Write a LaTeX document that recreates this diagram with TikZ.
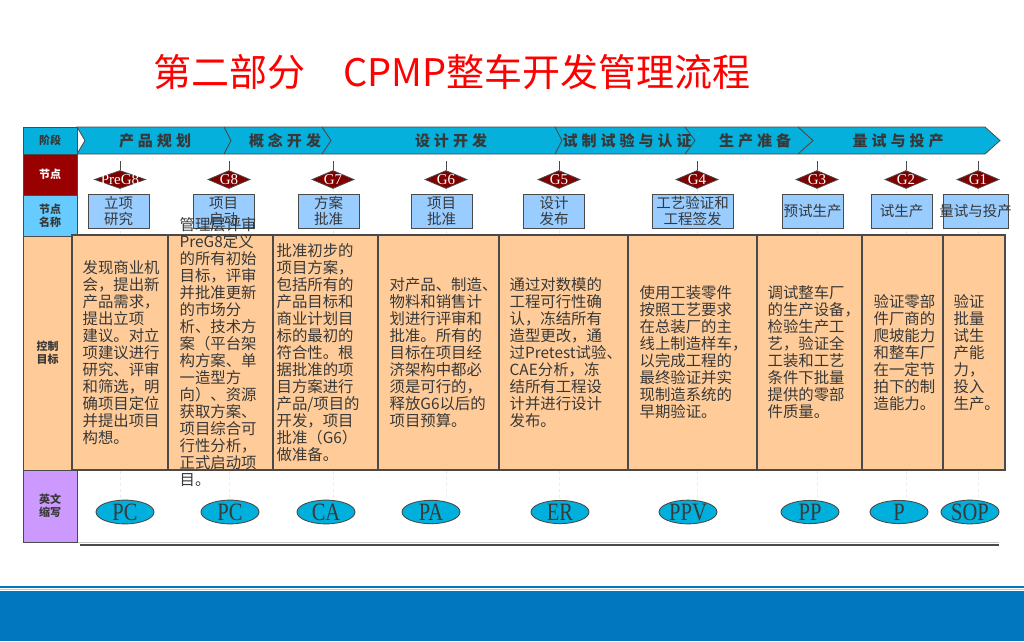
\documentclass[tikz,border=0pt]{standalone}
\usepackage{fontspec}
\setmainfont{Noto Sans CJK SC}
\newfontfamily\gatefont{Liberation Serif}
\newfontfamily\abbrfont[FakeStretch=0.82]{Liberation Serif}
\usepackage{tikz}
\usetikzlibrary{shapes.geometric, backgrounds}
\usepackage{xcolor}
\definecolor{stageCyan}{HTML}{06B0DC}
\definecolor{labelRed}{HTML}{990000}
\definecolor{gateRed}{HTML}{800000}
\definecolor{labelBlue}{HTML}{66CCFF}
\definecolor{tagBlue}{HTML}{99CCFF}
\definecolor{goalPeach}{HTML}{FFCC99}
\definecolor{labelPurple}{HTML}{CC99FF}
\definecolor{abbrCyan}{HTML}{00B0DC}
\definecolor{cellLine}{HTML}{4A4A4A}
\definecolor{txtGray}{HTML}{383838}
\definecolor{guideBlue}{HTML}{E1EDF8}
\definecolor{bandBlue}{HTML}{0077BF}
\definecolor{headRed}{HTML}{FF0000}
\newcommand\ls{\kern4pt}

\begin{document}
\begin{tikzpicture}[x=1pt, y=-1pt,
  rowlab/.style={draw=cellLine, line width=0.8pt, inner sep=0pt,
    minimum width=54pt, align=center, text=txtGray,
    font=\fontsize{11}{13}\selectfont\bfseries},
  stage/.style={inner sep=0pt, text=txtGray,
    font=\fontsize{15}{15}\selectfont\bfseries},
  gate/.style={diamond, draw=cellLine, fill=gateRed, line width=0.8pt,
    minimum width=42pt, minimum height=18pt, inner sep=0pt, text=white,
    font=\gatefont\fontsize{15}{15}\selectfont},
  stem/.style={draw=cellLine, line width=0.8pt},
  tag/.style={draw=cellLine, fill=tagBlue, line width=0.9pt,
    minimum width=61pt, minimum height=34pt, inner sep=0pt, align=center,
    text=txtGray, font=\fontsize{14.5}{16}\selectfont},
  goal/.style={draw=cellLine, fill=goalPeach, line width=1.2pt,
    minimum height=235pt, inner sep=0pt},
  goaltxt/.style={anchor=west, align=left, inner sep=0pt, text=txtGray,
    font=\fontsize{15.4}{17}\selectfont},
  abbr/.style={ellipse, draw=cellLine, fill=abbrCyan, line width=0.9pt,
    minimum width=58pt, minimum height=21pt, inner sep=0pt, text=txtGray,
    font=\abbrfont\fontsize{25}{25}\selectfont},
  guide/.style={draw=guideBlue, dashed, line width=0.8pt}]

\useasboundingbox (0,0) rectangle (1024,641);

\node[text=headRed, font=\fontsize{38}{40}\selectfont, inner sep=0pt] (headline)
  at (452,72) {第二部分　CPMP整车开发管理流程};

% phase band
\filldraw[fill=stageCyan, draw=cellLine, line width=0.8pt]
  (77,127) -- (985,127) -- (1000,140.5) -- (985,154) -- (77,154) -- (85,140.5) -- cycle;
\node[stage] (s1) at (155,140.5) {产\ls{}品\ls{}规\ls{}划};
\node[stage] (s2) at (285,140.5) {概\ls{}念\ls{}开\ls{}发};
\node[stage] (s3) at (451,140.5) {设\ls{}计\ls{}开\ls{}发};
\node[stage] (s4) at (627,140.5) {试\ls{}制\ls{}试\ls{}验\ls{}与\ls{}认\ls{}证};
\node[stage] (s5) at (755,140.5) {生\ls{}产\ls{}准\ls{}备};
\node[stage] (s6) at (898,140.5) {量\ls{}试\ls{}与\ls{}投\ls{}产};
\foreach \b/\d in {224/7, 322/9, 555/7, 685/10, 798/15}
  \draw[cellLine, line width=0.9pt] (\b,127) -- (\b+\d,140.5) -- (\b,154);

% row labels
\node[rowlab, fill=stageCyan, minimum height=27pt] (lstage) at (50,140.5) {阶段};
\node[rowlab, fill=labelRed, text=white, minimum height=41pt] (lgate) at (50,174.5) {节点};
\node[rowlab, fill=labelBlue, minimum height=41pt] (lname) at (50,215.5) {节点\\名称};
\node[rowlab, fill=goalPeach, minimum width=49pt, minimum height=234pt] (lgoal) at (47.5,353) {控制\\目标};
\node[rowlab, fill=labelPurple, minimum height=72pt] (labbr) at (50,506) {英文\\缩写};

% gates
\node[gate, minimum width=51pt] (gpre) at (120,179.5) {\makebox[0pt]{PreG8}};
\node[gate] (g8) at (229,179.5) {\makebox[0pt]{G8}};
\node[gate] (g7) at (333,179.5) {\makebox[0pt]{G7}};
\node[gate] (g6) at (446,179.5) {\makebox[0pt]{G6}};
\node[gate] (g5) at (559,179.5) {\makebox[0pt]{G5}};
\node[gate] (g4) at (697,179.5) {\makebox[0pt]{G4}};
\node[gate] (g3) at (817,179.5) {\makebox[0pt]{G3}};
\node[gate] (g2) at (906,179.5) {\makebox[0pt]{G2}};
\node[gate] (g1) at (978,179.5) {\makebox[0pt]{G1}};
\foreach \g in {gpre,g8,g7,g6,g5,g4,g3,g2,g1}
  \draw[stem] (\g.north) -- ++(0,-9);

% gate names
\node[tag] (n1) at (118.5,211) {立项\\研究};
\node[tag] (n2) at (223.5,211) {项目\\启动};
\node[tag] (n3) at (328.5,211) {方案\\批准};
\node[tag] (n4) at (441.5,211) {项目\\批准};
\node[tag] (n5) at (554,211) {设计\\发布};
\node[tag, minimum width=81pt] (n6) at (692.5,211) {工艺验证和\\工程签发};
\node[tag] (n7) at (812.5,211) {预试生产};
\node[tag] (n8) at (901.5,211) {试生产};
\node[tag, minimum width=65pt] (n9) at (975.5,211) {\makebox[0pt]{量试与投产}};

% control goals
\node[goal, minimum width=96pt] (c1) at (120,352.5) {};
\node[goal, minimum width=105pt] (c2) at (220.5,352.5) {};
\node[goal, minimum width=105pt] (c3) at (325.5,352.5) {};
\node[goal, minimum width=121pt] (c4) at (438.5,352.5) {};
\node[goal, minimum width=129pt] (c5) at (563.5,352.5) {};
\node[goal, minimum width=129pt] (c6) at (692.5,352.5) {};
\node[goal, minimum width=105pt] (c7) at (809.5,352.5) {};
\node[goal, minimum width=81pt] (c8) at (902.5,352.5) {};
\node[goal, minimum width=62pt] (c9) at (974,352.5) {};

\node[goaltxt] (t1) at ([xshift=11pt]c1.west) {发现商业机\\
会，提出新\\
产品需求，\\
提出立项\\
建议。对立\\
项建议进行\\
研究、评审\\
和筛选，明\\
确项目定位\\
并提出项目\\
构想。};
\node[goaltxt] (t2) at ([xshift=12pt]c2.west) {管理层评审\\
PreG8定义\\
的所有初始\\
目标，评审\\
并批准更新\\
的市场分\\
析、技术方\\
案（平台架\\
构方案、单\\
一造型方\\
向）、资源\\
获取方案、\\
项目综合可\\
行性分析，\\
正式启动项\\
目。};
\node[goaltxt] (t3) at ([xshift=4pt]c3.west) {批准初步的\\
项目方案，\\
包括所有的\\
产品目标和\\
商业计划目\\
标的最初的\\
符合性。根\\
据批准的项\\
目方案进行\\
产品/项目的\\
开发，项目\\
批准（G6）\\
做准备。};
\node[goaltxt] (t4) at ([xshift=12pt]c4.west) {对产品、制造、\\
物料和销售计\\
划进行评审和\\
批准。所有的\\
目标在项目经\\
济架构中都必\\
须是可行的，\\
释放G6以后的\\
项目预算。};
\node[goaltxt] (t5) at ([xshift=11pt]c5.west) {通过对数模的\\
工程可行性确\\
认，冻结所有\\
造型更改，通\\
过Pretest试验、\\
CAE分析，冻\\
结所有工程设\\
计并进行设计\\
发布。};
\node[goaltxt] (t6) at ([xshift=12pt]c6.west) {使用工装零件\\
按照工艺要求\\
在总装厂的主\\
线上制造样车，\\
以完成工程的\\
最终验证并实\\
现制造系统的\\
早期验证。};
\node[goaltxt] (t7) at ([xshift=11pt]c7.west) {调试整车厂\\
的生产设备，\\
检验生产工\\
艺，验证全\\
工装和工艺\\
条件下批量\\
提供的零部\\
件质量。};
\node[goaltxt] (t8) at ([xshift=12pt]c8.west) {验证零部\\
件厂商的\\
爬坡能力\\
和整车厂\\
在一定节\\
拍下的制\\
造能力。};
\node[goaltxt] (t9) at ([xshift=11pt]c9.west) {验证\\
批量\\
试生\\
产能\\
力，\\
投入\\
生产。};

% abbreviations
\node[minimum width=922pt, minimum height=72pt, inner sep=0pt] (abbrrow) at (538,506) {};
\draw[gray!45, line width=0.8pt] ([xshift=1pt,yshift=-0.5pt]abbrrow.south west) -- ([yshift=-0.5pt]abbrrow.south east);
\draw[cellLine, line width=2.2pt] ([xshift=3pt,yshift=-2.6pt]abbrrow.south west) -- ([yshift=-2.6pt]abbrrow.south east);
\node[abbr] (e1) at (125,512) {PC};
\node[abbr] (e2) at (230,512) {PC};
\node[abbr] (e3) at (326,512) {CA};
\node[abbr] (e4) at (431,512) {PA};
\node[abbr] (e5) at (560,512) {ER};
\node[abbr] (e6) at (688,512) {PPV};
\node[abbr] (e7) at (810,512) {PP};
\node[abbr] (e8) at (899,512) {P};
\node[abbr] (e9) at (970,512) {SOP};

% footer band
\fill[bandBlue] (0,585.5) rectangle (1024,588);
\fill[bandBlue!35] (0,589.2) rectangle (1024,590);
\fill[bandBlue] (0,591) rectangle (1024,641);

\begin{scope}[on background layer]
  \fill[white] (0,0) rectangle (1024,641);
  \foreach \g/\e in {gpre/e1,g8/e2,g7/e3,g6/e4,g5/e5,g4/e6,g3/e7,g2/e8,g1/e9}
    \draw[guide] (\g.south) -- (\g.south |- \e.north);
\end{scope}
\end{tikzpicture}
\end{document}
